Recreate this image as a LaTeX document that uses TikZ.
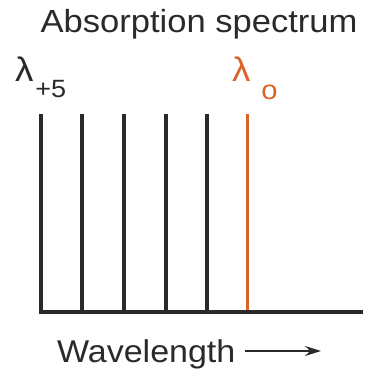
\documentclass[tikz,border=0pt]{standalone}
\usepackage{fontspec}
\setmainfont{Liberation Sans}[FakeStretch=1.08]
\usetikzlibrary{arrows.meta}
\definecolor{specgray}{RGB}{42,42,42}
\definecolor{specorange}{RGB}{216,100,40}
\begin{document}
\begin{tikzpicture}[x=1pt,y=-1pt,
  specline/.style={line width=3.5pt,color=specgray},
  every node/.style={inner sep=0pt,outer sep=0pt,text=specgray}]
\useasboundingbox (0,0) rectangle (368,382);
% title
\node[anchor=base,font=\fontsize{32}{36}\selectfont] (title) at (199,33) {Absorption spectrum};
% labels over the lines
\node[anchor=base west,font=\fontsize{34}{36}\selectfont] (lamfive) at (15,82) {λ\hspace{2pt}\raisebox{-16pt}{\fontsize{25}{28}\selectfont +5}};
\node[anchor=base west,font=\fontsize{34}{36}\selectfont,text=specorange] (lamzero) at (232,82) {λ\hspace{11pt}\raisebox{-18pt}{\fontsize{27}{30}\selectfont o}};
% spectrum lines
\foreach \x in {41,82,124,166,207} {
\draw[specline] (\x,114) -- (\x,312);
}
\draw[specline,color=specorange,line width=3pt] (247.5,114) -- (247.5,312);
\draw[specline,line width=4pt] (39.25,312) -- (363,312);
% axis label
\node[anchor=base west,font=\fontsize{31.5}{34}\selectfont] (wave) at (57,362) {Wavelength};
\coordinate (arrowstart) at (245,351);
\coordinate (arrowend) at (321,351);
\draw[-{Stealth[length=16pt,width=10pt]},line width=1.8pt,color=specgray] (arrowstart) -- (arrowend);
\end{tikzpicture}
\end{document}
